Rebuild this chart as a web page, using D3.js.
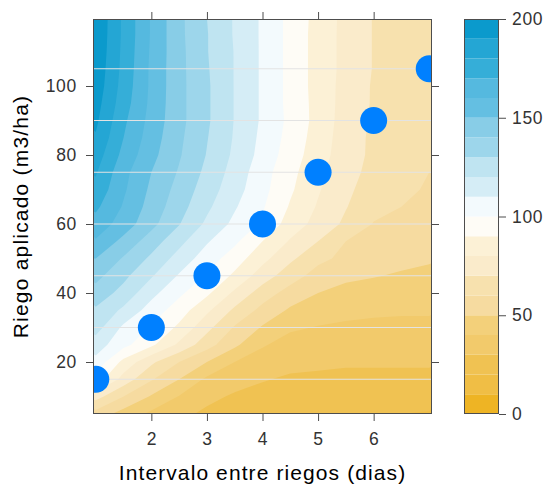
<!DOCTYPE html>
<html>
<head>
<meta charset="utf-8">
<script src="https://cdn.jsdelivr.net/npm/d3@7"></script>
<style>
  body { margin: 0; background: #fff; }
  text { font-family: "Liberation Sans", Arial, sans-serif; }
</style>
</head>
<body>
<svg id="chart" width="550" height="489"></svg>
<script>
// grid: columns = intervalo, rows = riego (bottom to top)
const intervalo = [1, 1.5, 2, 2.5, 3, 3.5, 4, 4.5, 5, 5.5, 6, 6.5, 7];
const riego = [5, 10, 15, 20, 25, 30, 35, 40, 45, 50, 55, 60, 65, 70, 75, 80, 85, 90, 95, 100, 105, 110, 115, 120];
const valores = [
  [56, 46, 38, 32, 28.5, 26.5, 25, 23.5, 22, 21, 20.5, 20, 19.5],
  [74, 60, 49, 39.5, 32, 29, 27.5, 26, 25, 24.5, 24, 23.5, 23],
  [96, 76, 61, 50, 38, 33, 30.5, 29, 28.5, 28, 28, 28, 28],
  [107, 87, 72, 60, 50, 40, 35, 32, 31.5, 31, 31, 31, 31],
  [115, 103, 92, 78, 64, 52, 41, 36, 35, 34.5, 34, 34, 34],
  [124, 108, 99, 88, 73, 59, 49, 41.5, 39.5, 38.5, 38, 38, 38],
  [128.5, 118, 105.5, 95, 82, 68, 57, 48.5, 44.5, 42.5, 41.5, 41, 41],
  [136, 126.5, 113, 102, 92, 78, 65, 56, 50, 47, 46, 45, 45],
  [143, 132.5, 121, 109, 99, 88, 75, 64.5, 56, 52, 50.5, 49, 48],
  [150, 139, 128, 116, 105, 95, 83, 72, 62.5, 57.5, 54, 52.5, 51],
  [159, 147, 135, 123, 111, 102, 90, 79, 70, 60, 57, 55, 53.5],
  [166, 155.5, 143, 130.5, 118, 107.5, 98.5, 85.5, 76.5, 68, 59.5, 58, 56],
  [172, 159, 146, 134, 122, 111, 101, 89, 79, 70.5, 63, 60, 57.5],
  [177, 161.5, 148, 136.5, 125, 114, 103, 91.5, 81, 72, 65.5, 62, 59],
  [181, 163, 150, 139, 127.5, 116, 104, 93, 82.5, 73, 67.5, 64, 60],
  [185, 167, 153, 141, 129.5, 118, 106.5, 95, 84.5, 74.5, 68, 64.5, 60.5],
  [189, 170, 155, 142, 130.5, 119, 107.5, 96.5, 85.5, 75, 68, 64.5, 61],
  [192, 172, 156.5, 143, 131.5, 119.5, 108.5, 97.5, 86.5, 75.5, 68.5, 64.5, 61],
  [194, 174.5, 157.5, 143, 131.5, 119.5, 108.5, 97, 86.5, 76, 69, 65, 61.5],
  [196, 176, 158, 143, 131.5, 119.5, 108.5, 97, 86, 76.5, 69, 65.5, 62],
  [197, 177, 158, 143, 131, 119.5, 108.5, 97, 86, 77, 69.5, 65.5, 62],
  [198, 177.5, 158.5, 143, 130.5, 119.5, 108.5, 97, 86, 77, 69.5, 65.5, 61.5],
  [198.5, 178, 159, 142.5, 130.5, 119, 108.5, 97, 86, 77, 69.5, 65.5, 61.5],
  [199, 178, 159, 142.5, 130, 119, 108.5, 97, 86.5, 77, 69.5, 65.5, 61]
];

// the blue points
const puntosX = [1, 2, 3, 4, 5, 6, 7];
const puntosY = [15, 30, 45, 60, 75, 90, 105];

const cortes = [0, 10, 20, 30, 40, 50, 60, 70, 80, 90, 100, 110, 120, 130, 140, 150, 160, 170, 180, 190, 200];
const colores = ['#EEB424', '#F0BE45', '#F0C252', '#F2CA6B', '#F3D07A', '#F6DBA0', '#F7E1AE', '#FAEBCB', '#FCF1D6', '#FEFCF6',
                 '#F3FAFD', '#D5EDF6', '#BFE4F1', '#9DD6EB', '#88CDE7', '#64BFE2', '#55B9DF', '#35AED8', '#24A6D4', '#0B9ACC'];

const xTicks = [2, 3, 4, 5, 6];
const yTicks = [20, 40, 60, 80, 100];
const keyTicks = [0, 50, 100, 150, 200];

const svg = d3.select('#chart');
const panel = {left: 93, right: 432, top: 19, bottom: 414};

const x = d3.scaleLinear().domain([0.95, 7.05]).range([panel.left, panel.right]);
const y = d3.scaleLinear().domain([4.93, 119.42]).range([panel.bottom, panel.top]);

svg.append('clipPath').attr('id', 'clip')
  .append('rect')
  .attr('x', panel.left).attr('y', panel.top)
  .attr('width', panel.right - panel.left).attr('height', panel.bottom - panel.top);

const g = svg.append('g').attr('clip-path', 'url(#clip)');

// filled levels
const stepX = intervalo[1] - intervalo[0];
const stepY = riego[1] - riego[0];
const bands = d3.contours()
  .size([intervalo.length, riego.length])
  .thresholds(cortes.slice(0, -1))(valores.flat());

const proj = d3.geoTransform({
  point: function(px, py) {
    this.stream.point(x(intervalo[0] + (px - 0.5) * stepX), y(riego[0] + (py - 0.5) * stepY));
  }
});
const path = d3.geoPath(proj);

g.selectAll('path.band').data(bands).join('path')
  .attr('class', 'band')
  .attr('d', path)
  .attr('fill', (d, i) => colores[i]);

// horizontal guide lines
g.selectAll('line.guia').data(puntosY).join('line')
  .attr('class', 'guia')
  .attr('x1', panel.left).attr('x2', panel.right)
  .attr('y1', d => y(d)).attr('y2', d => y(d))
  .attr('stroke', '#e3e3e3').attr('stroke-width', 1.2);

g.selectAll('circle').data(puntosX).join('circle')
  .attr('cx', d => x(d))
  .attr('cy', (d, i) => y(puntosY[i]))
  .attr('r', 13.5)
  .attr('fill', '#0080FF');

svg.append('rect')
  .attr('x', panel.left + 0.5).attr('y', panel.top + 0.5)
  .attr('width', panel.right - panel.left - 1).attr('height', panel.bottom - panel.top - 1)
  .attr('fill', 'none').attr('stroke', '#4d4d4d');

function styleAxis(sel) {
  sel.select('.domain').remove();
  sel.selectAll('line').attr('stroke', '#4d4d4d');
  sel.selectAll('text')
    .style('font-size', '17.5px')
    .style('letter-spacing', '0.7px')
    .attr('fill', '#333');
}

svg.append('g').attr('transform', `translate(0,${panel.bottom})`)
  .call(d3.axisBottom(x).tickValues(xTicks).tickSize(7).tickPadding(12).tickFormat(d3.format('d')))
  .call(styleAxis);
svg.append('g').attr('transform', `translate(0,${panel.top})`)
  .call(d3.axisTop(x).tickValues(xTicks).tickSize(7).tickFormat(''))
  .call(styleAxis);
svg.append('g').attr('transform', `translate(${panel.left},0)`)
  .call(d3.axisLeft(y).tickValues(yTicks).tickSize(7).tickPadding(9).tickFormat(d3.format('d')))
  .call(styleAxis);
svg.append('g').attr('transform', `translate(${panel.right},0)`)
  .call(d3.axisRight(y).tickValues(yTicks).tickSize(7).tickFormat(''))
  .call(styleAxis);

// colour key
const key = {left: 464, right: 499};
const k = d3.scaleLinear().domain([0, 200]).range([panel.bottom, panel.top]);
svg.append('g').selectAll('rect').data(colores).join('rect')
  .attr('x', key.left)
  .attr('width', key.right - key.left)
  .attr('y', (d, i) => k(cortes[i + 1]))
  .attr('height', (d, i) => k(cortes[i]) - k(cortes[i + 1]))
  .attr('fill', d => d);
svg.append('rect')
  .attr('x', key.left + 0.5).attr('y', panel.top + 0.5)
  .attr('width', key.right - key.left - 1).attr('height', panel.bottom - panel.top - 1)
  .attr('fill', 'none').attr('stroke', '#4d4d4d');
svg.append('g').attr('transform', `translate(${key.right},0)`)
  .call(d3.axisRight(k).tickValues(keyTicks).tickSize(7).tickPadding(6).tickFormat(d3.format('d')))
  .call(styleAxis);

// axis titles
svg.append('text')
  .attr('x', (panel.left + panel.right) / 2).attr('y', 480)
  .attr('text-anchor', 'middle')
  .style('font-size', '21px').style('letter-spacing', '1.1px')
  .text('Intervalo entre riegos (dias)');
svg.append('text')
  .attr('transform', `translate(28,${(panel.top + panel.bottom) / 2}) rotate(-90)`)
  .attr('text-anchor', 'middle')
  .style('font-size', '21px').style('letter-spacing', '1.2px')
  .text('Riego aplicado (m3/ha)');
</script>
</body>
</html>
